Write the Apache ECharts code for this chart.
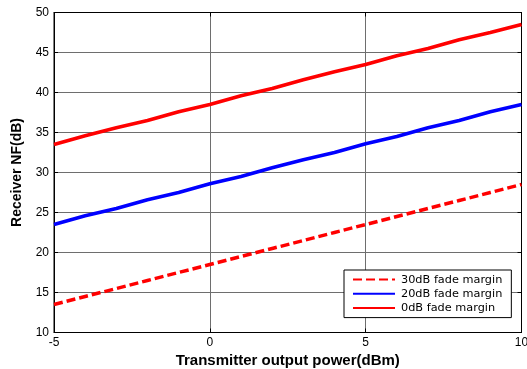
<!DOCTYPE html>
<html>
<head>
<meta charset="utf-8">
<script src="https://cdn.jsdelivr.net/npm/echarts@6/dist/echarts.min.js"></script>
<style>html,body{margin:0;padding:0;background:#fff}#c{width:527px;height:369px}</style>
</head>
<body>
<div id="c"></div>
<script>
// Transmitter output power (dBm)
var power = [-5, -4, -3, -2, -1, 0, 1, 2, 3, 4, 5, 6, 7, 8, 9, 10];
// Receiver noise figure (dB) for each fade margin
var nf30 = [13.5, 14.5, 15.5, 16.5, 17.5, 18.5, 19.5, 20.5, 21.5, 22.5, 23.5, 24.5, 25.5, 26.5, 27.5, 28.5];
var nf20 = [23.5, 24.6, 25.5, 26.6, 27.5, 28.6, 29.5, 30.6, 31.6, 32.5, 33.6, 34.5, 35.6, 36.5, 37.6, 38.5];
var nf0  = [33.5, 34.6, 35.6, 36.5, 37.6, 38.5, 39.6, 40.5, 41.6, 42.6, 43.5, 44.6, 45.5, 46.6, 47.5, 48.5];
var seriesNames = ['30dB fade margin', '20dB fade margin', '0dB fade margin'];

function pairs(ys) { return power.map(function (x, i) { return [x, ys[i]]; }); }

var chart = echarts.init(document.getElementById('c'));
var font = 'Liberation Sans, Arial, sans-serif';
var gridLine = { show: true, lineStyle: { color: '#6e6e6e', width: 1 } };
var tick = { show: true, inside: true, length: 4, lineStyle: { color: '#000' } };
var edgeLine = { show: true, onZero: false, lineStyle: { color: '#000', width: 1 } };
// mirror axes on the top and right edges carry the box ticks only
var mirror = { axisLine: edgeLine, axisTick: tick, axisLabel: { show: false }, splitLine: { show: false } };
chart.setOption({
  animation: false,
  grid: { left: 54, right: 5.5, top: 12.5, bottom: 36.5, outerBoundsMode: 'none', containLabel: false,
          show: true, borderColor: '#000', borderWidth: 1 },
  xAxis: [{
    type: 'value', min: -5, max: 10, interval: 5,
    name: 'Transmitter output power(dBm)', nameLocation: 'middle', nameGap: 21,
    nameTextStyle: { fontFamily: font, fontWeight: 'bold', fontSize: 15, color: '#000' },
    axisLine: edgeLine,
    axisTick: tick,
    axisLabel: { fontFamily: font, fontSize: 12, color: '#000', margin: 4 },
    splitLine: gridLine
  }, Object.assign({ type: 'value', min: -5, max: 10, interval: 5, position: 'top' }, mirror)],
  yAxis: [{
    type: 'value', min: 10, max: 50, interval: 5,
    name: 'Receiver NF(dB)', nameLocation: 'middle', nameGap: 30,
    nameTextStyle: { fontFamily: font, fontWeight: 'bold', fontSize: 14, color: '#000' },
    axisLine: edgeLine,
    axisTick: tick,
    axisLabel: { fontFamily: font, fontSize: 12, color: '#000', margin: 5 },
    splitLine: gridLine
  }, Object.assign({ type: 'value', min: 10, max: 50, interval: 5, position: 'right' }, mirror)],
  legend: {
    orient: 'vertical', left: 344, top: 270,
    backgroundColor: '#fff', borderColor: '#000', borderWidth: 1, borderRadius: 0,
    padding: [4, 9, 4, 8], itemGap: 3, itemWidth: 42, itemHeight: 14,
    itemStyle: { opacity: 0 },
    textStyle: { fontFamily: 'DejaVu Sans, sans-serif', fontSize: 11.3, color: '#000', padding: [0, 0, 0, 1] },
    data: seriesNames
  },
  series: [
    { name: seriesNames[0], type: 'line', data: pairs(nf30), symbol: 'none', color: '#ff0000',
      lineStyle: { color: '#ff0000', width: 3.5, type: [9, 4] } },
    { name: seriesNames[1], type: 'line', data: pairs(nf20), symbol: 'none', color: '#0000ff',
      lineStyle: { color: '#0000ff', width: 3.5 } },
    { name: seriesNames[2], type: 'line', data: pairs(nf0), symbol: 'none', color: '#ff0000',
      lineStyle: { color: '#ff0000', width: 3.5 } }
  ]
});
</script>
</body>
</html>
